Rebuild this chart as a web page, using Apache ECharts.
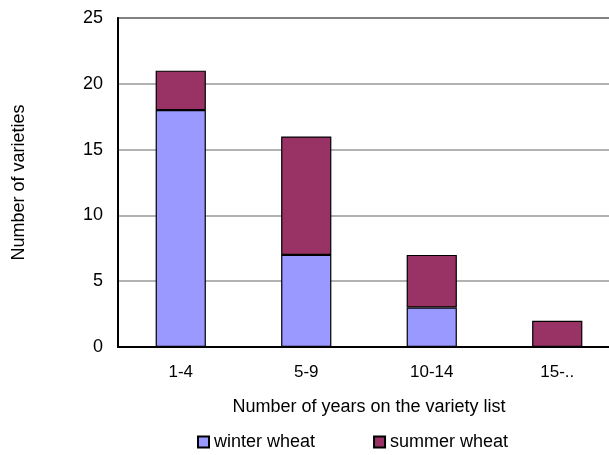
<!DOCTYPE html>
<html>
<head>
<meta charset="utf-8">
<script src="https://cdn.jsdelivr.net/npm/echarts@6/dist/echarts.min.js"></script>
<style>
  html, body { margin: 0; padding: 0; background: #fff; }
  #chart { width: 609px; height: 455px; }
</style>
</head>
<body>
<div id="chart"></div>
<script>
// Years on the variety list, grouped
const categories = ['1-4', '5-9', '10-14', '15-..'];
// Number of varieties per group
const winterWheat = [18, 7, 3, 0];
const summerWheat = [3, 9, 4, 2];
const seriesNames = ['winter wheat', 'summer wheat'];

const FONT = '"Liberation Sans", Arial, sans-serif';

const chart = echarts.init(document.getElementById('chart'));
chart.setOption({
  animation: false,
  textStyle: { fontFamily: FONT, color: '#000' },
  grid: {
    left: 118, top: 18, width: 502, height: 329,
    outerBoundsMode: 'none',
    containLabel: false,
    show: true, borderColor: '#000', borderWidth: 1.5, backgroundColor: 'transparent'
  },
  legend: {
    top: 433, left: 197, padding: 0,
    itemWidth: 11, itemHeight: 11, itemGap: 58,
    icon: 'rect',
    textStyle: { fontSize: 18, fontFamily: FONT, color: '#000' },
    data: seriesNames
  },
  xAxis: {
    type: 'category',
    data: categories,
    name: 'Number of years on the variety list',
    nameLocation: 'middle',
    nameGap: 51,
    nameTextStyle: { fontSize: 18, fontFamily: FONT, color: '#000' },
    axisLine: { lineStyle: { color: '#000', width: 2 } },
    axisTick: { inside: true, length: 5, lineStyle: { color: '#000' } },
    axisLabel: { fontSize: 17, color: '#000', margin: 17 }
  },
  yAxis: {
    type: 'value',
    min: 0, max: 25, interval: 5,
    name: 'Number of varieties',
    nameLocation: 'middle',
    nameGap: 90,
    nameTextStyle: { fontSize: 18, fontFamily: FONT, color: '#000' },
    axisLine: { show: true, lineStyle: { color: '#000', width: 2 } },
    axisTick: { show: false },
    axisLabel: { fontSize: 18, color: '#000', margin: 15 },
    splitLine: { lineStyle: { color: '#999', width: 1.5 } }
  },
  series: [
    {
      name: seriesNames[0], type: 'bar', stack: 'total', barWidth: '40%',
      data: winterWheat,
      itemStyle: { color: '#9999FF', borderColor: '#000', borderWidth: 1.2 }
    },
    {
      name: seriesNames[1], type: 'bar', stack: 'total', barWidth: '40%',
      data: summerWheat,
      itemStyle: { color: '#993366', borderColor: '#000', borderWidth: 1.2 }
    }
  ]
});
</script>
</body>
</html>
